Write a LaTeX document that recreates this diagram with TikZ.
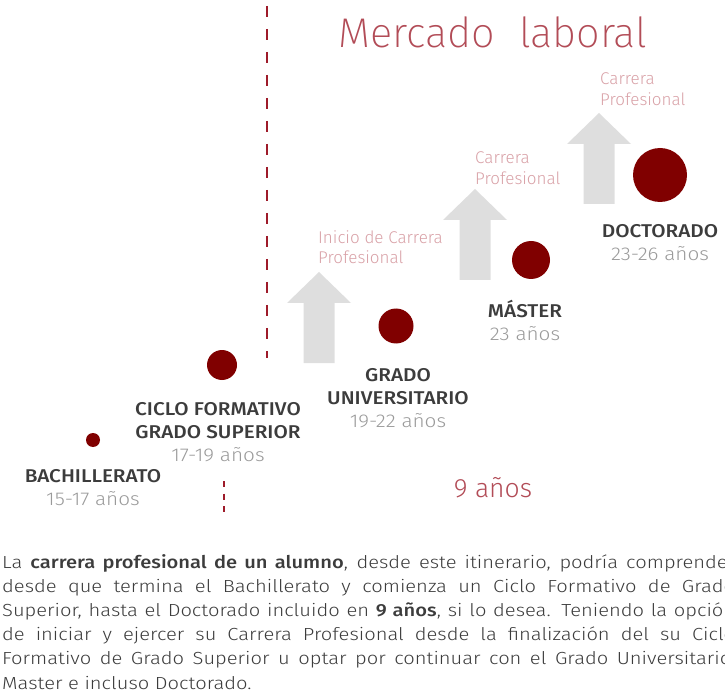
\documentclass[tikz,border=0pt]{standalone}
\usepackage{fontspec}
\setmainfont{Fira Sans}[UprightFont={* Light}, BoldFont={* Medium}]
\newfontfamily\thinfont{Fira Sans}[UprightFont={* ExtraLight}]
\newfontfamily\stagefont{Fira Sans}[UprightFont={* Light}, BoldFont={* Medium}, FakeStretch=1.12]
\newfontfamily\parafont{Fira Sans}[UprightFont={* Light}, BoldFont={* Medium}, FakeStretch=1.15]
\definecolor{myred}{HTML}{800000}
\definecolor{mydash}{HTML}{9E1B2A}
\definecolor{mytitle}{HTML}{B24C57}
\definecolor{mypink}{HTML}{D8A0A6}
\definecolor{mygray}{HTML}{DEDEDE}
\definecolor{mydark}{HTML}{3C3C3C}
\definecolor{myage}{HTML}{9A9A9A}
\begin{document}
\begin{tikzpicture}[x=1pt, y=-1pt] % pixel grid, y down
\tikzstyle{mydot} = [circle, fill=myred, inner sep=0pt] % study stage
\tikzstyle{mystage} = [align=center, text=mydark, font=\stagefont\fontsize{18.5}{23}\selectfont\bfseries] % stage name
\tikzstyle{mycareer} = [anchor=west, align=left, text=mypink, font=\fontsize{17}{20.5}\selectfont, inner sep=0pt] % career label
\tikzstyle{myarrow} = [fill=mygray] % grey arrow
\useasboundingbox (0,0) rectangle (725,700);
% dashed limits
\coordinate (uptop) at (267,6);
\coordinate (upbot) at (267,358);
\coordinate (lowtop) at (224,481);
\coordinate (lowbot) at (224,513);
\draw[mydash, line width=2.5pt, dash pattern=on 11pt off 12pt] (uptop) -- (upbot);
\draw[mydash, line width=2.5pt, dash pattern=on 6pt off 6.5pt] (lowtop) -- (lowbot);
% title
\node[anchor=base, text=mytitle, font=\thinfont\fontsize{41.5}{50}\selectfont, inner sep=0pt] (mercado) at (493,48) {Mercado~~laboral};
% arrows
\foreach \x/\y in {319/272, 475/189, 599/113}
  \fill[myarrow] (\x,\y) -- ++(32,31) -- ++(-16.5,0) -- ++(0,60) -- ++(-31,0) -- ++(0,-60) -- ++(-16.5,0) -- cycle;
\node[mycareer] (inicio) at (318,247) {Inicio de Carrera\\Profesional};
\node[mycareer] (carrera1) at (475,168) {Carrera\\Profesional};
\node[mycareer] (carrera2) at (600,89) {Carrera\\Profesional};
% stages
\node[mydot, minimum size=14pt] (bach) at (93,440) {};
\node[mydot, minimum size=30pt] (ciclo) at (222,365) {};
\node[mydot, minimum size=35pt] (grado) at (396,326) {};
\node[mydot, minimum size=38pt] (master) at (531,260) {};
\node[mydot, minimum size=54pt] (doctor) at (660,175) {};
\node[mystage] (bachtxt) at (93,488) {BACHILLERATO\\{\mdseries\color{myage}15-17 años}};
\node[mystage] (ciclotxt) at (218,432) {CICLO FORMATIVO\\GRADO SUPERIOR\\{\mdseries\color{myage}17-19 años}};
\node[mystage] (gradotxt) at (398,398) {GRADO\\UNIVERSITARIO\\{\mdseries\color{myage}19-22 años}};
\node[mystage] (mastertxt) at (525,320) {MÁSTER\\{\mdseries\color{myage}23 años}};
\node[mystage] (doctortxt) at (660,243) {DOCTORADO\\{\mdseries\color{myage}23-26 años}};
\node[anchor=base, text=mytitle, font=\fontsize{26.5}{32}\selectfont, inner sep=0pt] (nueve) at (493,497) {9 años};
% paragraph
\node[anchor=north west, inner sep=0pt, text width=733pt, align=justify, text=mydark,
  font=\parafont\fontsize{17.5}{24.2}\selectfont] (texto) at (2,554)
  {La \textbf{carrera profesional de un alumno}, desde este itinerario, podría comprender\linebreak
   desde que termina el Bachillerato y comienza un Ciclo Formativo de Grado\linebreak
   Superior, hasta el Doctorado incluido en \textbf{9 años}, si lo desea. Teniendo la opción\linebreak
   de iniciar y ejercer su Carrera Profesional desde la finalización del su Ciclo\linebreak
   Formativo de Grado Superior u optar por continuar con el Grado Universitario,\linebreak
   Master e incluso Doctorado.};
\end{tikzpicture}
\end{document}
